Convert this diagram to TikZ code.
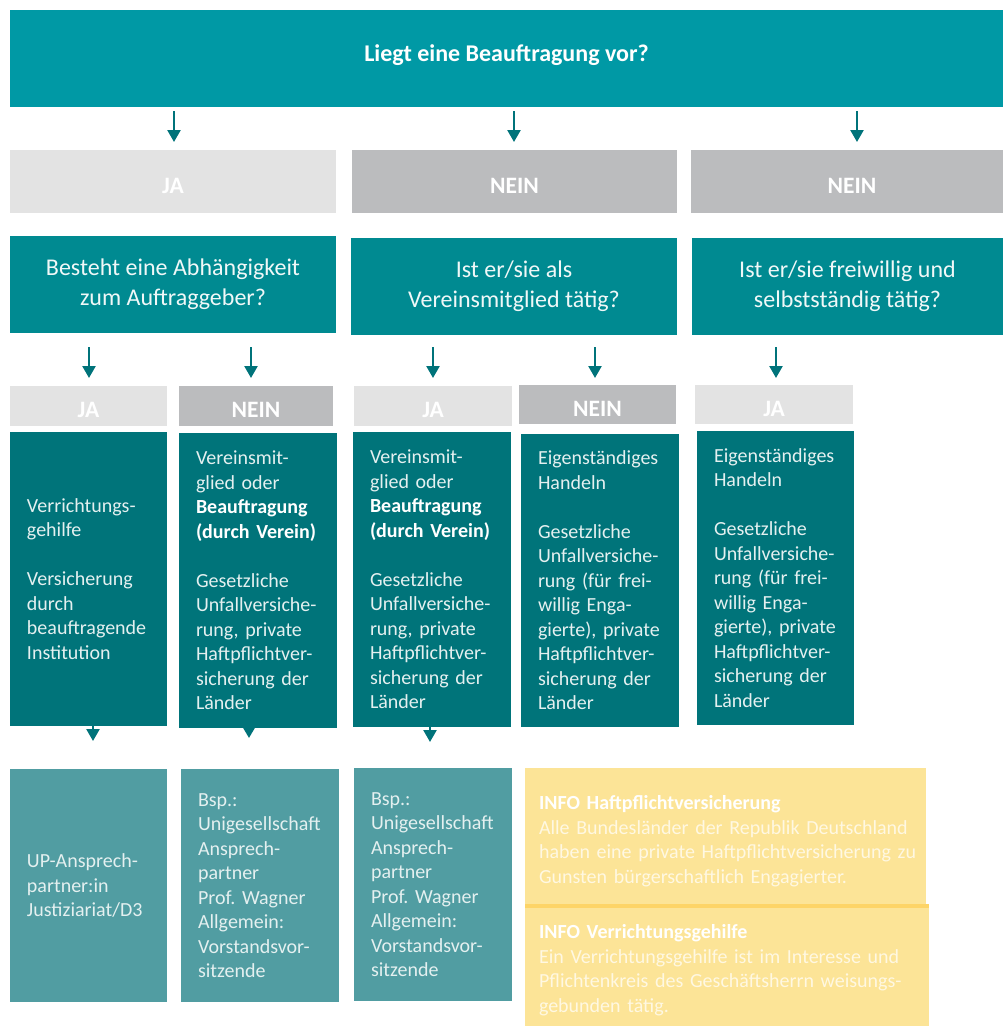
\documentclass[tikz,border=0pt]{standalone}
\usepackage{fontspec}
\setmainfont{Carlito}
\usetikzlibrary{arrows.meta}
\definecolor{topteal}{HTML}{0099A5}
\definecolor{qteal}{HTML}{008A91}
\definecolor{dteal}{HTML}{00747A}
\definecolor{lteal}{HTML}{519DA2}
\definecolor{ltgray}{HTML}{E3E3E3}
\definecolor{mdgray}{HTML}{BBBCBE}
\definecolor{infoyel}{HTML}{FCE497}
\definecolor{infostripe}{HTML}{FDD467}
\definecolor{arrowteal}{HTML}{00737A}
\definecolor{btext}{HTML}{E4F0F0}
\definecolor{qtext}{HTML}{F0F8F8}
\definecolor{infotext}{HTML}{FFF8E2}
\newcommand\bodyfnt{\fontsize{20}{24.5}\selectfont\frenchspacing\hyphenpenalty=10000\relax\exhyphenpenalty=10000\relax}
\tikzset{
  blk/.style={anchor=north west, inner sep=0pt, outer sep=0pt},
  headbox/.style={blk, fill=topteal, text=white, font=\fontsize{24}{29}\selectfont\bfseries},
  yesbox/.style={blk, fill=ltgray, text=white, font=\fontsize{23.5}{28}\selectfont\bfseries},
  nobox/.style={blk, fill=mdgray, text=white, font=\fontsize{23.5}{28}\selectfont\bfseries},
  qbox/.style={blk, fill=qteal, text=qtext, align=center, font=\fontsize{24}{30}\selectfont},
  dbox/.style={blk, fill=dteal, text=btext, align=left, inner xsep=17pt, font=\bodyfnt},
  lbox/.style={blk, fill=lteal, text=btext, align=left, inner xsep=17pt, font=\bodyfnt},
  infobox/.style={blk, fill=infoyel, text=infotext, align=left, inner xsep=14pt, font=\bodyfnt},
  arr/.style={draw=arrowteal, line width=2.4pt, -{Triangle[width=13pt,length=12pt]}},
  smallarr/.style={draw=arrowteal, line width=2.4pt, -{Triangle[width=11pt,length=10pt]}},
}
\begin{document}
\begin{tikzpicture}[x=1pt,y=-1pt]
\useasboundingbox (0,0) rectangle (1003,1026);
\fill[white] (0,0) rectangle (1003,1026);

% headline
\node[headbox, minimum width=993pt, text height=51pt, text depth=46pt] (top) at (10,10) {Liegt eine Beauftragung vor?};

% first answer row
\node[yesbox, minimum width=326pt, text height=43pt, text depth=20pt] (ja0) at (10,150) {JA};
\node[nobox, minimum width=325pt, text height=43pt, text depth=20pt] (nein0a) at (352,150) {NEIN};
\node[nobox, minimum width=312pt, text height=43pt, text depth=20pt] (nein0b) at (691,150) {\hspace*{10pt}NEIN};

% questions
\node[qbox, minimum width=326pt, minimum height=97pt] (q1) at (10,236) {Besteht eine Abhängigkeit\\zum Auftraggeber?};
\node[qbox, minimum width=326pt, minimum height=97pt] (q2) at (351,238) {Ist er/sie als\\Vereinsmitglied tätig?};
\node[qbox, minimum width=311pt, minimum height=97pt] (q3) at (692,238) {Ist er/sie freiwillig und\\selbstständig tätig?};

% second answer row
\node[yesbox, minimum width=157pt, text height=31pt, text depth=9pt] (ja1) at (10,386) {JA};
\node[nobox, minimum width=154pt, text height=31pt, text depth=9pt] (nein1) at (179,386) {NEIN};
\node[yesbox, minimum width=158pt, text height=31pt, text depth=9pt] (ja2) at (354,386) {JA};
\node[nobox, minimum width=157pt, text height=31pt, text depth=8pt] (nein2) at (519,385) {NEIN};
\node[yesbox, minimum width=158pt, text height=31pt, text depth=8pt] (ja3) at (695,385) {JA};

% dark boxes
\node[dbox, text width=123pt, minimum height=294pt] (bA) at (10,432)
  {Verrichtungs-\\gehilfe\\[24.5pt]Versicherung\\durch\\beauftragende\\Institution};
\node[dbox, text width=124pt, minimum height=295pt] (bB) at (179,433)
  {Vereinsmit-\\glied~oder\\\textcolor{white}{\bfseries Beauftragung}\\\textcolor{white}{\bfseries (durch~Verein)}\\[24.5pt]Gesetzliche\\Unfallversiche-\\rung,~private\\Haftpflichtver-\\sicherung~der\\Länder};
\node[dbox, text width=124pt, minimum height=295pt] (bC) at (353,432)
  {Vereinsmit-\\glied~oder\\\textcolor{white}{\bfseries Beauftragung}\\\textcolor{white}{\bfseries (durch~Verein)}\\[24.5pt]Gesetzliche\\Unfallversiche-\\rung,~private\\Haftpflichtver-\\sicherung~der\\Länder};
\node[dbox, text width=124pt, minimum height=293pt] (bD) at (521,434)
  {Eigenständiges\\Handeln\\[24.5pt]Gesetzliche\\Unfallversiche-\\rung~(für~frei-\\willig~Enga-\\gierte),~private\\Haftpflichtver-\\sicherung~der\\Länder};
\node[dbox, text width=123pt, minimum height=294pt] (bE) at (697,431)
  {Eigenständiges\\Handeln\\[24.5pt]Gesetzliche\\Unfallversiche-\\rung~(für~frei-\\willig~Enga-\\gierte),~private\\Haftpflichtver-\\sicherung~der\\Länder};

% contact boxes
\node[lbox, text width=123pt, minimum height=233pt] (cA) at (10,769)
  {UP-Ansprech-\\partner:in\\Justiziariat/D3};
\node[lbox, text width=124pt, minimum height=233pt] (cB) at (181,769)
  {Bsp.:\\Unigesellschaft\\Ansprech-\\partner\\Prof.~Wagner\\Allgemein:\\Vorstandsvor-\\sitzende};
\node[lbox, text width=124pt, minimum height=233pt] (cC) at (354,768)
  {Bsp.:\\Unigesellschaft\\Ansprech-\\partner\\Prof.~Wagner\\Allgemein:\\Vorstandsvor-\\sitzende};

% info boxes
\node[infobox, text width=373pt, minimum height=136pt] (info1) at (525,768)
  {\rule{0pt}{24pt}\textcolor{white}{\bfseries INFO~Haftpflichtversicherung}\\Alle~Bundesländer~der~Republik~Deutschland\\haben~eine~private~Haftpflichtversicherung~zu\\Gunsten~bürgerschaftlich~Engagierter.};
\node[infobox, text width=376pt, minimum height=122pt] (info2) at (525,904)
  {\rule{0pt}{24pt}\textcolor{white}{\bfseries INFO~Verrichtungsgehilfe}\\Ein~Verrichtungsgehilfe~ist~im~Interesse~und\\Pflichtenkreis~des~Geschäftsherrn~weisungs-\\gebunden~tätig.};
\fill[infostripe] (info2.north west) rectangle ([yshift=-4pt]info2.north east);

% arrows, first level
\draw[arr, shorten <=4pt, shorten >=8pt] (top.south -| 174,0) -- (ja0.north -| 174,0);
\draw[arr, shorten <=4pt, shorten >=8pt] (top.south -| 514,0) -- (nein0a.north -| 514,0);
\draw[arr, shorten <=4pt, shorten >=8pt] (top.south -| 857,0) -- (nein0b.north -| 857,0);

% arrows, second level
\draw[arr, shorten <=14pt, shorten >=8pt] (q1.south -| 89,0) -- (ja1.north -| 89,0);
\draw[arr, shorten <=14pt, shorten >=8pt] (q1.south -| 251,0) -- (nein1.north -| 251,0);
\draw[arr, shorten <=12pt, shorten >=8pt] (q2.south -| 433,0) -- (ja2.north -| 433,0);
\draw[arr, shorten <=12pt, shorten >=7pt] (q2.south -| 595,0) -- (nein2.north -| 595,0);
\draw[arr, shorten <=12pt, shorten >=7pt] (q3.south -| 776,0) -- (ja3.north -| 776,0);

% arrows, to contacts
\draw[arr, shorten >=28pt] (bA.south -| 93,0) -- (cA.north -| 93,0);
\draw[smallarr, shorten >=31pt] (bB.south -| 249,0) -- (cB.north -| 249,0);
\draw[arr, shorten >=26pt] (bC.south -| 430,0) -- (cC.north -| 430,0);
\end{tikzpicture}
\end{document}
